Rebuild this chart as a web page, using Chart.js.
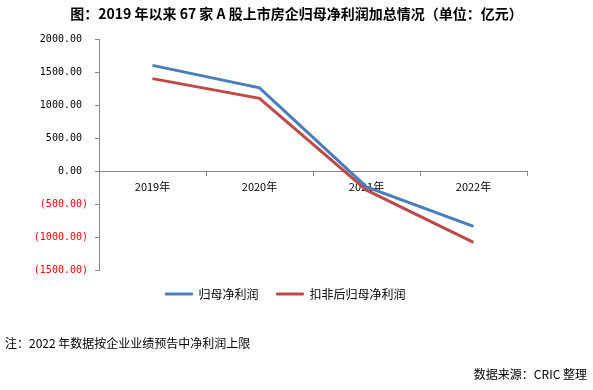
<!DOCTYPE html>
<html>
<head>
<meta charset="utf-8">
<script src="https://cdn.jsdelivr.net/npm/chart.js@4.4.0/dist/chart.umd.min.js"></script>
<style>
  html, body { margin: 0; padding: 0; background: #fff; }
  #wrap { position: relative; width: 593px; height: 390px; overflow: hidden; }
  #chart { position: absolute; left: 0; top: 0; }
  .txt { position: absolute; font-family: "Noto Sans CJK SC", sans-serif; color: #000; white-space: nowrap; line-height: 18px; }
  #title { top: 4px; left: 0; width: 593px; text-align: center; font-size: 14px; font-weight: bold; }
  #note { left: 5px; top: 334px; font-size: 12px; }
  #source { right: 6px; top: 365px; font-size: 12px; }
</style>
</head>
<body>
<div id="wrap">
  <canvas id="chart" width="593" height="390"></canvas>
  <div class="txt" id="title">图：2019 年以来 67 家 A 股上市房企归母净利润加总情况（单位：亿元）</div>
  <div class="txt" id="note">注：2022 年数据按企业业绩预告中净利润上限</div>
  <div class="txt" id="source">数据来源：CRIC 整理</div>
</div>
<script>
const years = ['2019年', '2020年', '2021年', '2022年'];
const netProfit = [1600, 1260, -240, -840];          // 归母净利润
const deductedNetProfit = [1400, 1100, -290, -1080]; // 扣非后归母净利润
const yMin = -1500;
const yMax = 2000;
const yStep = 500;

const axisGray = '#868686';
const blue = '#4A7EBB';
const red = '#BE4B48';

function fmtTick(v) {
    if (v < 0) return '(' + Math.abs(v).toFixed(2) + ')';
    return v.toFixed(2) + ' ';
}

new Chart(document.getElementById('chart'), {
    type: 'line',
    data: {
        labels: years,
        datasets: [
            { label: '归母净利润', data: netProfit, borderColor: blue, backgroundColor: blue, borderWidth: 3, pointRadius: 0, tension: 0, fill: false },
            { label: '扣非后归母净利润', data: deductedNetProfit, borderColor: red, backgroundColor: red, borderWidth: 3, pointRadius: 0, tension: 0, fill: false }
        ]
    },
    options: {
        responsive: false,
        animation: false,
        devicePixelRatio: 1,
        layout: { padding: { left: 22, right: 44, top: 39, bottom: 80 } },
        plugins: {
            title: { display: false },
            tooltip: { enabled: false },
            legend: {
                position: 'bottom',
                labels: {
                    color: '#000',
                    font: { family: '"Noto Sans CJK SC", sans-serif', size: 12 },
                    boxWidth: 27,
                    boxHeight: 2,
                    padding: 18,
                    generateLabels: chart => Chart.defaults.plugins.legend.labels.generateLabels(chart).map(l => ({
                        ...l, lineWidth: 1, fillStyle: l.strokeStyle
                    }))
                }
            }
        },
        scales: {
            x: {
                type: 'category',
                position: { y: 0 },
                offset: true,
                grid: { offset: true, drawOnChartArea: false, drawTicks: true, tickLength: 4, color: axisGray },
                border: { display: true, color: axisGray, width: 1 },
                ticks: {
                    color: '#000',
                    font: { family: '"Noto Sans CJK SC", sans-serif', size: 11 },
                    padding: 5,
                    maxRotation: 0,
                    autoSkip: false
                }
            },
            y: {
                min: yMin,
                max: yMax,
                afterFit: s => { s.width = 77; },
                grid: { drawOnChartArea: false, drawTicks: true, tickLength: 4, color: axisGray },
                border: { display: true, color: axisGray, width: 1 },
                ticks: {
                    stepSize: yStep,
                    padding: 7,
                    font: { family: '"DejaVu Sans Mono", monospace', size: 10 },
                    color: ctx => ctx.tick.value < 0 ? '#FF0000' : '#000',
                    callback: v => fmtTick(v)
                }
            },
            yPad: {
                position: 'right',
                display: true,
                afterFit: s => { s.width = 22; },
                grid: { display: false },
                border: { display: false },
                ticks: { display: false }
            }
        }
    }
});
</script>
</body>
</html>
